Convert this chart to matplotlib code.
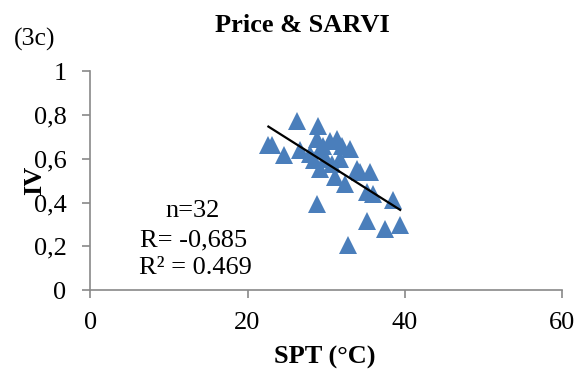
import numpy as np
import matplotlib
matplotlib.use("Agg")
import matplotlib.pyplot as plt

# SPT (°C) vs IV values
spt = [26.3, 29.0, 22.65, 23.1, 24.6, 26.7, 28.8, 30.5, 31.4, 29.2,
       33.0, 28.4, 30.7, 29.2, 33.9, 35.6, 31.1, 32.4, 35.2, 28.8,
       36.0, 38.5, 35.2, 37.5, 39.4, 32.8, 27.9, 29.6, 30.0, 31.8,
       32.0, 34.3]
iv = [0.773, 0.748, 0.664, 0.661, 0.619, 0.638, 0.692, 0.681, 0.692, 0.638,
      0.642, 0.593, 0.578, 0.555, 0.555, 0.540, 0.517, 0.483, 0.45, 0.395,
      0.441, 0.41, 0.315, 0.278, 0.299, 0.208, 0.62, 0.66, 0.60, 0.60,
      0.66, 0.54]
xticks = [0, 20, 40, 60]
yticks = [0, 0.2, 0.4, 0.6, 0.8, 1]
ylabels = ["0", "0,2", "0,4", "0,6", "0,8", "1"]

plt.rcParams['font.family'] = ['Liberation Serif', 'DejaVu Serif']
grey = '#898989'
fs = 19

fig = plt.figure(figsize=(5.82, 3.72), dpi=100)
ax = fig.add_axes([0.155, 0.220, 0.811, 0.589])

ax.plot(spt, iv, '^', color='#4A7EBB', markersize=13, markeredgewidth=0, zorder=3)

# trend line over the data range
a, b = np.polyfit(spt, iv, 1)
xl = np.array([min(spt), max(spt)])
ax.plot(xl, a * xl + b, color='black', linewidth=1.6, zorder=4)

ax.set_xlim(0, 60)
ax.set_ylim(0, 1)
ax.set_xticks(xticks)
ax.set_yticks(yticks)
ax.set_yticklabels(ylabels)
for s in ['top', 'right']:
    ax.spines[s].set_visible(False)
for s in ['left', 'bottom']:
    ax.spines[s].set_color(grey)
    ax.spines[s].set_linewidth(1.2)
ax.tick_params(colors=grey, labelcolor='black', labelsize=fs, length=6, width=1.2)
ax.tick_params(axis='y', pad=11)
ax.tick_params(axis='x', pad=10)

ax.set_xlabel("SPT (°C)", fontsize=fs, fontweight='bold', va='baseline')
ax.xaxis.set_label_coords(0.496, -0.333)
ax.set_ylabel("IV", fontsize=fs, fontweight='bold', va='center')
ax.yaxis.set_label_coords(-0.117, 0.5)
fig.text(0.52, 0.915, "Price & SARVI", ha='center', va='baseline', fontsize=fs, fontweight='bold')
fig.text(0.059, 0.878, "(3c)", ha='center', va='baseline', fontsize=18.5)

ax.text(0.217, 0.335, "n=32", transform=ax.transAxes, ha='center', va='baseline', fontsize=fs)
ax.text(0.218, 0.201, "R= -0,685", transform=ax.transAxes, ha='center', va='baseline', fontsize=fs)
ax.text(0.222, 0.072, "R² = 0.469", transform=ax.transAxes, ha='center', va='baseline', fontsize=fs)

plt.savefig("out.png", dpi=100)
